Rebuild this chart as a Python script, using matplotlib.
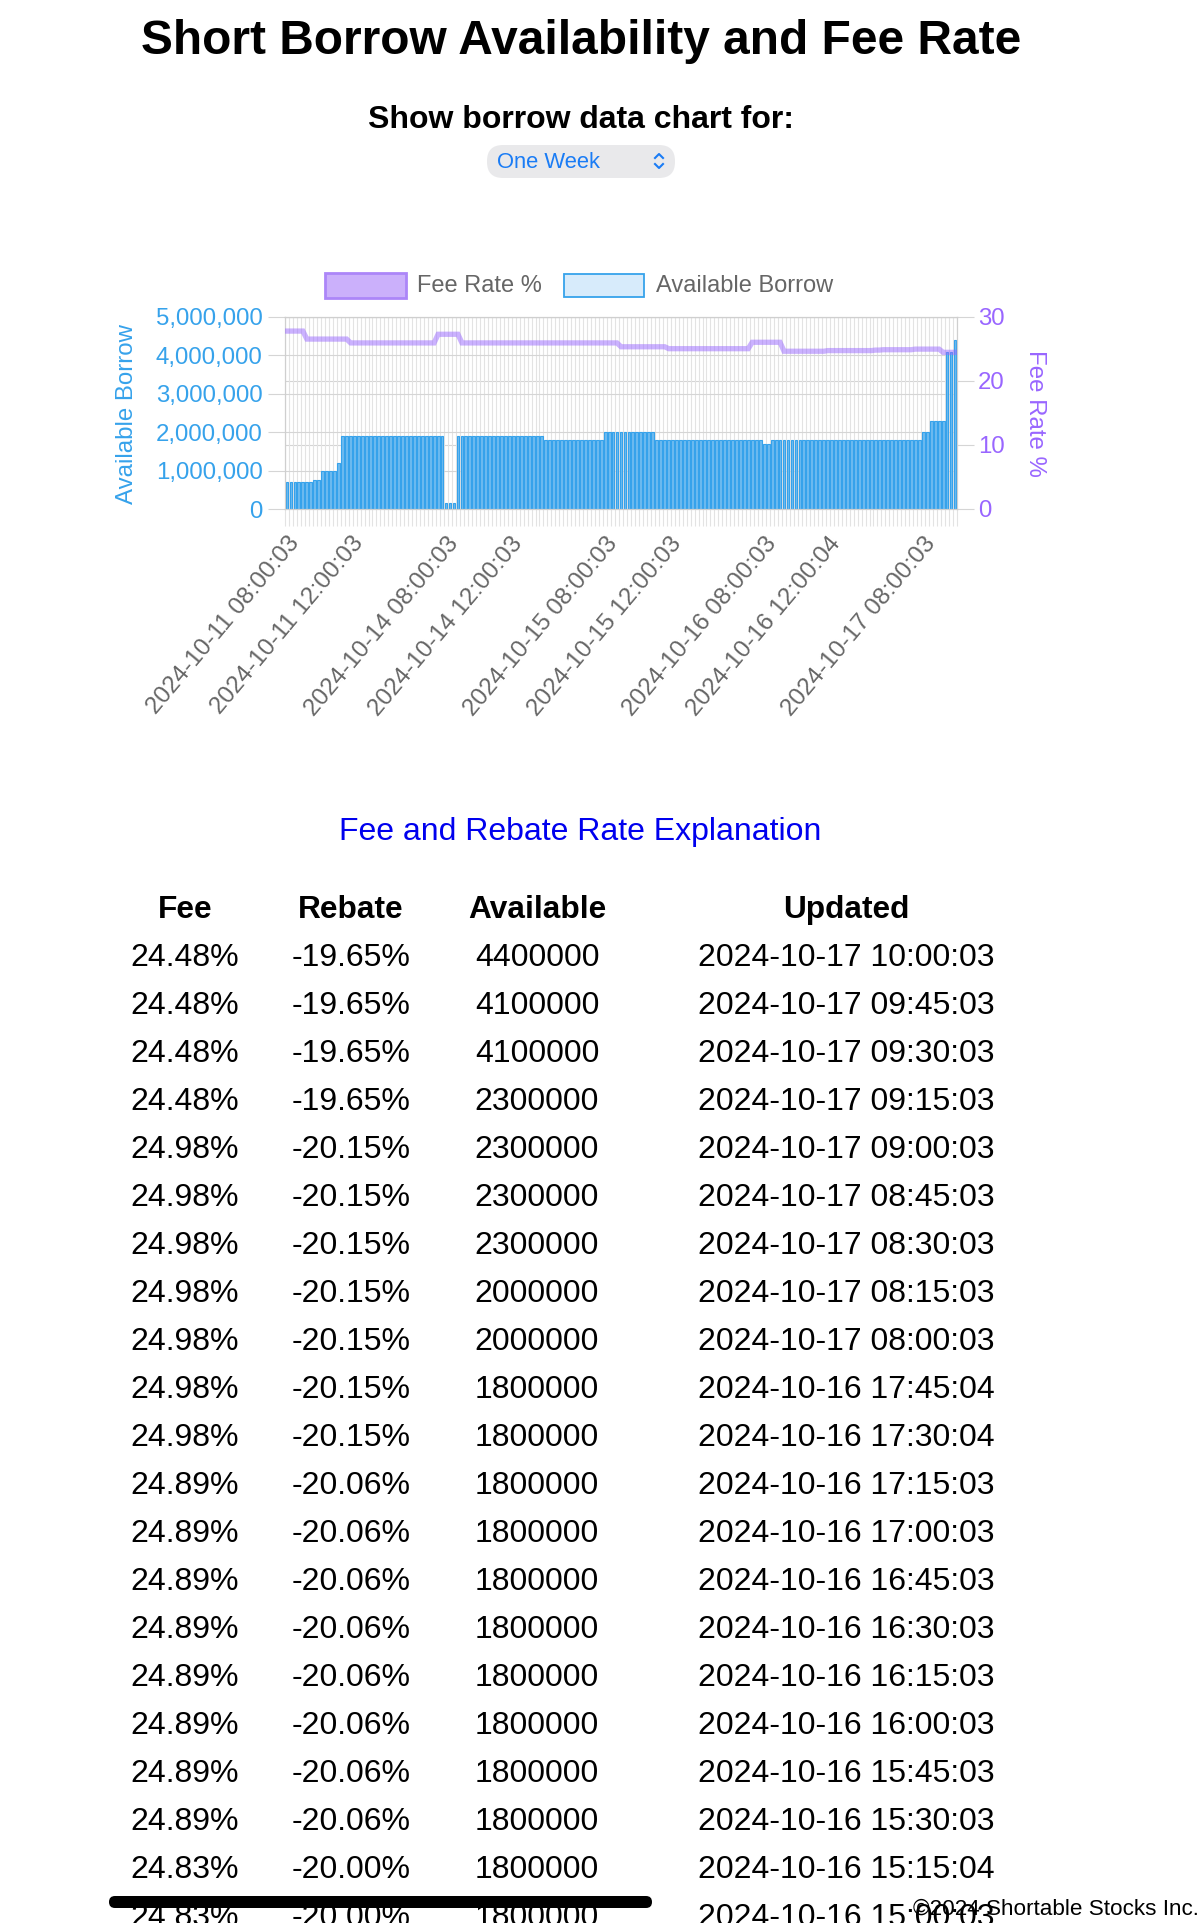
import numpy as np
import matplotlib
matplotlib.use("Agg")
import matplotlib.pyplot as plt
from matplotlib.patches import Rectangle, FancyBboxPatch
from matplotlib.ticker import FuncFormatter
from matplotlib.transforms import ScaledTranslation

plt.rcParams['font.family'] = ['Liberation Sans', 'DejaVu Sans']

W, H = 1201, 1923

# ---- data ----
# trading days and how many 15-minute samples each one has (08:00 onwards)
day_dates = ['2024-10-11', '2024-10-14', '2024-10-15', '2024-10-16', '2024-10-17']
day_counts = [40, 40, 40, 40, 9]
# samples stamped with :04 seconds instead of :03
late_stamps = ['2024-10-16 12:00', '2024-10-16 15:15', '2024-10-16 17:30', '2024-10-16 17:45']

# available borrow, stored as (level, number of samples) runs
avail_levels = [700000, 750000, 1000000, 1200000, 1900000, 150000, 1900000, 1800000,
                2000000, 1800000, 1700000, 1800000, 2000000, 2300000, 4100000, 4400000]
avail_runs = [7, 2, 4, 1, 26, 3, 22, 15, 13, 27, 2, 38, 2, 4, 2, 1]

# fee rate %, same run layout
fee_levels = [27.8, 26.55, 25.95, 27.3, 25.95, 25.35, 25.05, 26.05, 24.65, 24.75,
              24.83, 24.89, 24.98, 24.48]
fee_runs = [5, 11, 22, 6, 40, 12, 21, 8, 11, 12, 2, 8, 7, 4]

tick_labels = ['2024-10-11 08:00:03', '2024-10-11 12:00:03', '2024-10-14 08:00:03',
               '2024-10-14 12:00:03', '2024-10-15 08:00:03', '2024-10-15 12:00:03',
               '2024-10-16 08:00:03', '2024-10-16 12:00:04', '2024-10-17 08:00:03']

left_ticks = [0, 1000000, 2000000, 3000000, 4000000, 5000000]
right_ticks = [0, 10, 20, 30]

# table (newest first)
table_header = ['Fee', 'Rebate', 'Available', 'Updated']
table_rebate = ['-19.65%', '-19.65%', '-19.65%', '-19.65%', '-20.15%', '-20.15%', '-20.15%',
                '-20.15%', '-20.15%', '-20.15%', '-20.15%', '-20.06%', '-20.06%', '-20.06%',
                '-20.06%', '-20.06%', '-20.06%', '-20.06%', '-20.06%', '-20.00%', '-20.00%']

# ---- build series ----
stamps = []
for d, n in zip(day_dates, day_counts):
    for k in range(n):
        hh, mm = 8 + (k * 15) // 60, (k * 15) % 60
        s = f"{d} {hh:02d}:{mm:02d}"
        stamps.append(s + (":04" if s in late_stamps else ":03"))

avail = np.repeat(avail_levels, avail_runs)
fee = np.repeat(fee_levels, fee_runs)
n = len(stamps)
x = np.arange(n)

fig = plt.figure(figsize=(W / 100, H / 100), dpi=100)

# page layer in pixel coordinates
page = fig.add_axes([0, 0, 1, 1], zorder=5)
page.set_xlim(0, W)
page.set_ylim(H, 0)
page.axis('off')

# ---- chart ----
blue = '#36a2eb'
purple = '#9966ff'
grey_txt = '#666666'
csize = 17

ax = fig.add_axes([285 / W, 1 - 509 / H, (957 - 285) / W, (509 - 317) / H], zorder=1)
ax.bar(x, avail, width=0.72, color='#6fbbf0', edgecolor=blue, linewidth=0.8, zorder=2)
ax.set_xlim(-0.5, n - 0.5)
ax.set_ylim(0, 5000000)
ax.set_yticks(left_ticks)
ax.yaxis.set_major_formatter(FuncFormatter(lambda v, _: f"{int(v):,}"))
ax.tick_params(axis='y', length=12.2, width=0.8, color='#d5d5d5', labelcolor=blue,
               labelsize=17.3, pad=4)
ax.grid(axis='y', color='#d5d5d5', lw=0.8, zorder=0)
for v in right_ticks:
    ax.axhline(v * 5000000 / 30, color='#d5d5d5', lw=0.8, zorder=0)

ax.set_xticks(np.arange(-0.5, n), minor=True)
ax.grid(axis='x', which='minor', color='#e3e3e3', lw=0.8, zorder=0)
ax.tick_params(axis='x', which='minor', length=12.2, width=0.8, color='#e3e3e3')
tick_pos = [stamps.index(t) for t in tick_labels]
ax.set_xticks(tick_pos)
ax.set_xticklabels(tick_labels, rotation=50, ha='right', va='center',
                   rotation_mode='anchor', color=grey_txt, fontsize=17.5)
ax.tick_params(axis='x', which='major', length=0, pad=22)
shift = ScaledTranslation(9 / 100, 0, fig.dpi_scale_trans)
for lbl in ax.get_xticklabels():
    lbl.set_transform(lbl.get_transform() + shift)
ax.set_axisbelow(True)
for sp in ax.spines.values():
    sp.set_color('#cfcfcf')
    sp.set_linewidth(0.8)

ax2 = ax.twinx()
ax2.plot(x, fee, color=(0.6, 0.4, 1.0, 0.5), lw=3.8, solid_joinstyle='miter', zorder=3)
ax2.set_ylim(0, 30)
ax2.set_yticks(right_ticks)
ax2.tick_params(axis='y', length=12.2, width=0.8, color='#d5d5d5', labelcolor=purple,
                labelsize=17.3, pad=3)
for sp in ax2.spines.values():
    sp.set_color('#cfcfcf')
    sp.set_linewidth(0.8)

page.text(127, 414, 'Available Borrow', rotation=90, ha='center', va='center',
          color=blue, fontsize=17.3)
page.text(1035, 413, 'Fee Rate %', rotation=270, ha='center', va='center',
          color=purple, fontsize=17.3)

# legend
page.add_patch(Rectangle((324.5, 272.5), 81, 25, facecolor='#cbb0fb', edgecolor='#ac86f8',
                         lw=2.0))
page.text(417, 292.5, 'Fee Rate %', color=grey_txt, fontsize=csize, va='baseline')
page.add_patch(Rectangle((564, 273.5), 80, 23, facecolor='#d7ebfb', edgecolor=blue, lw=1.3))
page.text(656, 292.5, 'Available Borrow', color=grey_txt, fontsize=csize, va='baseline')

# ---- page header ----
page.text(581, 54, 'Short Borrow Availability and Fee Rate', ha='center', va='baseline',
          fontsize=34.5, fontweight='bold', color='black')
page.text(581, 128, 'Show borrow data chart for:', ha='center', va='baseline',
          fontsize=23, fontweight='bold', color='black')
page.add_patch(FancyBboxPatch((487, 145), 188, 33,
                              boxstyle='round,pad=0,rounding_size=16',
                              facecolor='#e9e9eb', edgecolor='none'))
page.text(497, 168, 'One Week', va='baseline', fontsize=15.8, color='#1a7cf5')
page.plot([655, 659, 663], [158, 154, 158], color='#1a7cf5', lw=1.5)
page.plot([655, 659, 663], [164, 168, 164], color='#1a7cf5', lw=1.5)

# ---- table ----
page.text(580.5, 840, 'Fee and Rebate Rate Explanation', ha='center', va='baseline',
          fontsize=23, color='#0000ee')
col_x = [185, 351, 537, 846.5]
for cx, h in zip(col_x, table_header):
    page.text(cx, 918, h, ha='center', va='baseline', fontsize=22.8, fontweight='bold')

n_rows = len(table_rebate)
for r in range(n_rows):
    i = n - 1 - r
    y = 966 + 48 * r
    cells = [f"{fee[i]:.2f}%", table_rebate[r], str(avail[i]), stamps[i]]
    for cx, c in zip(col_x, cells):
        page.text(cx, y, c, ha='center', va='baseline', fontsize=23, color='black')

page.add_patch(FancyBboxPatch((109, 1896), 543, 12, boxstyle='round,pad=0,rounding_size=6',
                              facecolor='black', edgecolor='none', zorder=6))
page.text(1199, 1915, '\u00a92024 Shortable Stocks Inc.', ha='right', va='baseline',
          fontsize=16.2, color='black', zorder=7)

fig.savefig('out.png', dpi=100)
